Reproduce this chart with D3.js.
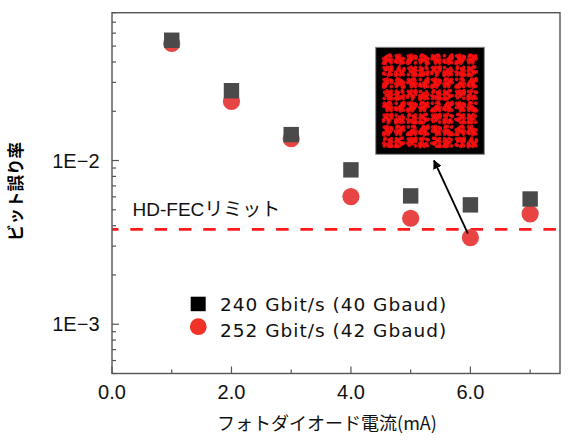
<!DOCTYPE html>
<html>
<head>
<meta charset="utf-8">
<script src="https://cdn.jsdelivr.net/npm/d3@7"></script>
<style>
    body { margin: 0; background: #fff; }
    svg { display: block; }
</style>
</head>
<body>
<svg id="chart" width="577" height="446"></svg>
<script>
    "use strict";
    // photodiode current (mA)
    var currents = [1, 2, 3, 4, 5, 6, 7];
    // bit error rate, 240 Gbit/s (40 Gbaud)
    var ber240 = [0.0543, 0.0267, 0.0144, 0.00877, 0.00608, 0.00536, 0.00582];
    // bit error rate, 252 Gbit/s (42 Gbaud)
    var ber252 = [0.0519, 0.0230, 0.0136, 0.00602, 0.00444, 0.00338, 0.00472];
    var hdFecLimit = 3.8e-3;
    var xTickValues = [0, 2, 4, 6];
    var xMinorValues = [1, 3, 5, 7];
    var yTickValues = [1e-3, 1e-2];
    var yTickLabels = ["1E\u22123", "1E\u22122"];
    var legendLabels = ["240 Gbit/s (40 Gbaud)", "252 Gbit/s (42 Gbaud)"];
    // 64-QAM inset: symbol levels and a fixed blob shape around each symbol
    var qamLevels = [-7, -5, -3, -1, 1, 3, 5, 7];
    var blobOffsets = [[0, 0], [2.1, -1.5], [-2.0, 1.8], [3.2, 2.3], [-3.0, -2.6], [0.5, 3.7],
        [-0.8, -3.9], [4.0, -0.5], [-4.1, 0.7], [2.4, 4.1], [-3.4, 3.6], [3.5, -3.6], [-1.5, 0.3],
        [1.2, -2.5], [-2.4, -4.2], [4.3, 3.9], [1.0, 1.4]];

    var svg = d3.select("#chart");
    var margin = { left: 112, top: 12.7, right: 17, bottom: 72.5 };
    var width = 577 - margin.left - margin.right;
    var height = 446 - margin.top - margin.bottom;
    var root = svg.append("g")
        .attr("transform", "translate(" + margin.left + "," + margin.top + ")");

    var x = d3.scaleLinear().domain([0, 7.5]).range([0, width]);
    var y = d3.scaleLog().domain([5e-4, 8e-2]).range([height, 0]);

    var tickFont = "'Liberation Sans', Arial, sans-serif";
    var cjkFont = "'Noto Sans CJK JP', sans-serif";

    // HD-FEC limit line
    root.append("line")
        .attr("x1", 0).attr("x2", width)
        .attr("y1", y(hdFecLimit)).attr("y2", y(hdFecLimit))
        .attr("stroke", "#ff1a1a")
        .attr("stroke-width", 2.8)
        .attr("stroke-dasharray", "12.5,11.8")
        .attr("stroke-dashoffset", 6);
    root.append("text")
        .attr("x", 20.5)
        .attr("y", y(hdFecLimit) - 13.5)
        .attr("font-family", tickFont + ", " + cjkFont)
        .attr("font-size", 19)
        .attr("fill", "#111")
        .text("HD-FEC\u30ea\u30df\u30c3\u30c8");

    // markers: circles below squares
    root.selectAll("circle.s252")
        .data(currents)
        .enter().append("circle")
        .attr("class", "s252")
        .attr("cx", function (d) { return x(d); })
        .attr("cy", function (d, i) { return y(ber252[i]); })
        .attr("r", 8.6)
        .attr("fill", "#e94444");
    var sq = 15.4;
    root.selectAll("rect.s240")
        .data(currents)
        .enter().append("rect")
        .attr("class", "s240")
        .attr("x", function (d) { return x(d) - sq / 2; })
        .attr("y", function (d, i) { return y(ber240[i]) - sq / 2; })
        .attr("width", sq)
        .attr("height", sq)
        .attr("fill", "#4a4a4a");

    // constellation inset
    var inset = { x: 375.7 - margin.left, y: 47.3 - margin.top, w: 108.6, h: 107 };
    var insetG = root.append("g")
        .attr("transform", "translate(" + inset.x + "," + inset.y + ")");
    insetG.append("rect")
        .attr("width", inset.w)
        .attr("height", inset.h)
        .attr("fill", "#000")
        .attr("stroke", "#8a8a8a")
        .attr("stroke-width", 1);
    var qx = d3.scaleLinear().domain([-8, 8]).range([6, inset.w - 6]);
    var qy = d3.scaleLinear().domain([-8, 8]).range([inset.h - 6, 6]);
    var symbols = [];
    qamLevels.forEach(function (a, i) {
        qamLevels.forEach(function (b, j) {
            symbols.push({ i: a, q: b, k: i * 8 + j });
        });
    });
    symbols.forEach(function (s) {
        var flip = ((s.k * 3) + (s.k >> 3)) % 4;
        blobOffsets.forEach(function (o, n) {
            if ((n + s.k) % 6 === 0) return;
            var ox = flip === 1 ? -o[0] : flip === 2 ? o[1] : flip === 3 ? -o[1] : o[0];
            var oy = flip === 1 ? o[1] : flip === 2 ? -o[0] : flip === 3 ? o[0] : o[1];
            insetG.append("circle")
                .attr("cx", qx(s.i) + ox)
                .attr("cy", qy(s.q) + oy)
                .attr("r", 1.9)
                .attr("fill", "#ff1010")
                .attr("opacity", 0.85);
        });
    });

    // arrow from the 6 mA point to the inset
    svg.append("defs").append("marker")
        .attr("id", "arrowhead")
        .attr("viewBox", "0 0 10 10")
        .attr("refX", 9).attr("refY", 5)
        .attr("markerWidth", 5).attr("markerHeight", 5)
        .attr("orient", "auto")
        .append("path")
        .attr("d", "M0,0 L10,5 L0,10 z")
        .attr("fill", "#000");
    root.append("line")
        .attr("x1", x(6) - 2.5)
        .attr("y1", y(ber252[5]) - 4)
        .attr("x2", 434 - margin.left)
        .attr("y2", 160.5 - margin.top)
        .attr("stroke", "#000")
        .attr("stroke-width", 1.8)
        .attr("marker-end", "url(#arrowhead)");

    // frame
    root.append("rect")
        .attr("width", width)
        .attr("height", height)
        .attr("fill", "none")
        .attr("stroke", "#555")
        .attr("stroke-width", 1.4);

    // x ticks (inward)
    var xAxis = root.append("g").attr("transform", "translate(0," + height + ")");
    xAxis.selectAll("line.major")
        .data(xTickValues)
        .enter().append("line")
        .attr("x1", function (d) { return x(d); })
        .attr("x2", function (d) { return x(d); })
        .attr("y1", 0).attr("y2", -7)
        .attr("stroke", "#555").attr("stroke-width", 1.2);
    xAxis.selectAll("line.minor")
        .data(xMinorValues)
        .enter().append("line")
        .attr("x1", function (d) { return x(d); })
        .attr("x2", function (d) { return x(d); })
        .attr("y1", 0).attr("y2", -4)
        .attr("stroke", "#555").attr("stroke-width", 1.2);
    xAxis.selectAll("text")
        .data(xTickValues)
        .enter().append("text")
        .attr("x", function (d) { return x(d); })
        .attr("y", 25.8)
        .attr("text-anchor", "middle")
        .attr("font-family", tickFont)
        .attr("font-size", 20)
        .attr("fill", "#111")
        .text(function (d) { return d3.format(".1f")(d); });

    // y ticks (inward), log minors
    var yMinor = [];
    [1e-4, 1e-3, 1e-2].forEach(function (dec) {
        for (var m = 2; m <= 9; m++) {
            var v = m * dec;
            if (v >= 5e-4 && v <= 8e-2) yMinor.push(v);
        }
    });
    var yAxis = root.append("g");
    yAxis.selectAll("line.minor")
        .data(yMinor)
        .enter().append("line")
        .attr("x1", 0).attr("x2", 4)
        .attr("y1", function (d) { return y(d); })
        .attr("y2", function (d) { return y(d); })
        .attr("stroke", "#555").attr("stroke-width", 1.2);
    yAxis.selectAll("line.major")
        .data(yTickValues)
        .enter().append("line")
        .attr("x1", 0).attr("x2", 7)
        .attr("y1", function (d) { return y(d); })
        .attr("y2", function (d) { return y(d); })
        .attr("stroke", "#555").attr("stroke-width", 1.2);
    yAxis.selectAll("text")
        .data(yTickValues)
        .enter().append("text")
        .attr("x", -12.5)
        .attr("y", function (d) { return y(d); })
        .attr("dy", "0.36em")
        .attr("text-anchor", "end")
        .attr("font-family", tickFont)
        .attr("font-size", 20)
        .attr("fill", "#111")
        .text(function (d, i) { return yTickLabels[i]; });

    // axis titles
    svg.append("text")
        .attr("x", 327)
        .attr("y", 430)
        .attr("text-anchor", "middle")
        .attr("font-family", cjkFont)
        .attr("font-size", 18)
        .attr("fill", "#111")
        .text("\u30d5\u30a9\u30c8\u30c0\u30a4\u30aa\u30fc\u30c9\u96fb\u6d41(mA)");
    svg.append("text")
        .attr("transform", "translate(21.5,191.5) rotate(-90)")
        .attr("text-anchor", "middle")
        .attr("font-family", cjkFont)
        .attr("font-size", 16.5)
        .attr("font-weight", "bold")
        .attr("fill", "#000")
        .text("\u30d3\u30c3\u30c8\u8aa4\u308a\u7387");

    // legend
    var legend = svg.append("g");
    legend.append("rect")
        .attr("x", 190.7).attr("y", 296.7)
        .attr("width", 15).attr("height", 14.5)
        .attr("fill", "#000");
    legend.append("circle")
        .attr("cx", 198.3).attr("cy", 326.7)
        .attr("r", 8.4)
        .attr("fill", "#ef3326");
    legend.selectAll("text")
        .data(legendLabels)
        .enter().append("text")
        .attr("x", 220)
        .attr("y", function (d, i) { return 311 + i * 26.3; })
        .attr("font-family", "'DejaVu Sans', sans-serif")
        .attr("font-size", 18.5)
        .attr("letter-spacing", 1.0)
        .attr("fill", "#111")
        .text(function (d) { return d; });
</script>
</body>
</html>
